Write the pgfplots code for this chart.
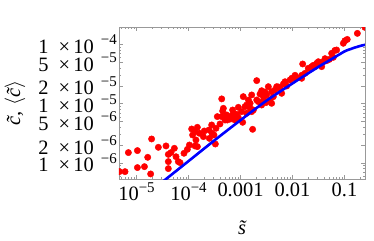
\documentclass[border=0pt]{standalone}
\usepackage{fontspec}
\setmainfont{Liberation Serif}
\usepackage{pgfplots}
\usepackage{pgfplotstable}
\pgfplotsset{compat=1.18}
\pgfplotstableread{
x y
4.68e-6 7.11e-7
6.01e-6 7.11e-7
6.97e-6 1.49e-6
8.69e-6 5.28e-7
1.04e-5 1.61e-6
1.04e-5 8.32e-7
1.42e-5 8.63e-7
1.64e-5 1.24e-6
1.87e-5 6.50e-7
1.95e-5 2.53e-6
2.63e-5 1.83e-6
3.69e-5 1.93e-6
4.09e-5 1.39e-6
4.09e-5 1.05e-6
4.09e-5 8.0e-7
4.60e-5 1.49e-6
5.34e-5 1.76e-6
5.75e-5 1.27e-6
6.37e-5 1.05e-6
6.87e-5 1.01e-6
8.18e-5 1.45e-6
9.51e-5 1.69e-6
1.04e-4 2.00e-6
1.15e-4 3.73e-6
1.20e-4 2.95e-6
1.33e-4 1.93e-6
1.39e-4 2.43e-6
1.48e-4 1.88e-6
1.48e-4 3.98e-6
1.61e-4 3.16e-6
2.01e-4 3.45e-6
1.93e-4 2.77e-6
2.48e-4 3.59e-6
2.52e-4 2.59e-6
2.83e-4 3.16e-6
3.09e-4 2.95e-6
3.28e-4 2.08e-6
3.38e-4 3.83e-6
3.58e-4 6.03e-6
4.03e-4 4.53e-6
4.35e-4 6.03e-6
4.35e-4 1.20e-5
4.54e-4 7.50e-6
5.04e-4 5.28e-6
5.42e-4 6.43e-6
5.58e-4 5.28e-6
6.47e-4 5.50e-6
7.06e-4 7.80e-6
7.28e-4 6.03e-6
7.83e-4 5.28e-6
8.43e-4 6.59e-6
9.08e-4 5.79e-6
9.08e-4 8.65e-6
1.05e-3 7.31e-6
1.10e-3 4.83e-6
1.13e-3 1.31e-5
1.22e-3 8.87e-6
1.31e-3 9.46e-6
1.42e-3 1.15e-5
1.53e-3 8.32e-6
1.64e-3 7.31e-6
1.71e-3 3.68e-6
2.05e-3 2.44e-5
2.20e-3 1.08e-5
2.37e-3 1.45e-5
2.55e-3 1.65e-5
2.55e-3 9.46e-6
2.83e-3 1.15e-5
3.09e-3 1.04e-5
3.18e-3 1.40e-5
3.43e-3 1.93e-5
3.69e-3 1.15e-5
3.97e-3 1.59e-5
4.28e-3 1.31e-5
4.60e-3 1.69e-5
4.96e-3 1.93e-5
5.75e-3 1.81e-5
6.19e-3 1.49e-5
6.67e-3 2.14e-5
7.18e-3 2.34e-5
7.73e-3 1.98e-5
8.95e-3 2.50e-5
9.64e-3 2.67e-5
1.12e-2 2.67e-5
1.50e-2 2.67e-5
1.57e-2 4.66e-5
1.74e-2 3.24e-5
2.01e-2 3.94e-5
2.33e-2 4.20e-5
2.70e-2 4.20e-5
2.92e-2 4.78e-5
3.14e-2 5.09e-5
3.64e-2 4.20e-5
3.92e-2 5.09e-5
4.54e-2 5.30e-5
5.11e-2 5.57e-5
5.66e-2 7.05e-5
6.10e-2 6.03e-5
7.06e-2 8.02e-5
9.50e-2 1.04e-4
0.102 1.15e-4
0.113 1.21e-4
0.177 1.53e-4
0.248 1.93e-4
2.96e-3 1.57e-5
5.35e-3 1.91e-5
1.12e-2 3.00e-5
1.20e-2 2.70e-5
1.50e-2 3.00e-5
2.51e-2 4.42e-5
3.38e-2 4.72e-5
4.22e-2 5.73e-5
6.56e-2 7.91e-5
1.33e-4 3.37e-6
2.79e-4 4.36e-6
4.68e-4 8.32e-6
6.28e-4 6.03e-6
7.28e-4 6.86e-6
1.31e-3 6.86e-6
1.53e-3 1.01e-5
1.64e-3 1.40e-5
1.77e-3 7.80e-6
2.05e-3 1.15e-5
2.75e-3 1.31e-5
3.97e-3 1.01e-5
}\dots
\pgfplotstableread{
x y
2.51e-5 4.07e-7
3.98e-5 5.62e-7
1.0e-4 1.07e-6
3.16e-4 2.40e-6
1.0e-3 5.25e-6
3.16e-3 1.12e-5
1.0e-2 2.19e-5
3.16e-2 4.17e-5
5.62e-2 5.62e-5
0.1 7.59e-5
0.126 8.22e-5
0.158 8.81e-5
0.2 9.38e-5
0.251 9.84e-5
}\curve
\newcommand{\tl}[2]{#1\hspace{0.5em}×\hspace{0.15em}10\hspace{0.35em}\raisebox{0.42em}{\fontsize{15}{15}\selectfont −#2}}
\begin{document}
\begin{tikzpicture}
\path[use as bounding box] (-119bp,-62bp) rectangle (255bp,179bp);
\begin{axis}[
  at={(0,0)}, anchor=south west,
  width=246bp, height=152bp, scale only axis,
  xmode=log, ymode=log,
  xmin=4.6e-6, xmax=0.248,
  ymin=5.34e-7, ymax=1.96e-4,
  font=\fontsize{20.5}{23}\selectfont,
  /pgf/number format/assume math mode=true,
  axis line style={black!40},
  every tick/.style={black!40},
  tick align=inside,
  major tick length=4bp, minor tick length=2.2bp,
  xtick={1e-5,1e-4,1e-3,1e-2,1e-1},
  xticklabels={10\raisebox{0.42em}{\fontsize{15}{15}\selectfont −5},10\raisebox{0.42em}{\fontsize{15}{15}\selectfont −4},0.001,0.01,0.1},
  minor xtick={5e-6,6e-6,7e-6,8e-6,9e-6,2e-5,3e-5,4e-5,5e-5,6e-5,7e-5,8e-5,9e-5,2e-4,3e-4,4e-4,5e-4,6e-4,7e-4,8e-4,9e-4,2e-3,3e-3,4e-3,5e-3,6e-3,7e-3,8e-3,9e-3,2e-2,3e-2,4e-2,5e-2,6e-2,7e-2,8e-2,9e-2,0.2},
  ytick={1e-6,2e-6,5e-6,1e-5,2e-5,5e-5,1e-4},
  yticklabels={\tl{1}{6},\tl{2}{6},\tl{5}{6},\tl{1}{5},\tl{2}{5},\tl{5}{5},\tl{1}{4}},
  yticklabel style={inner xsep=2bp},
  minor ytick={6e-7,7e-7,8e-7,9e-7,3e-6,4e-6,6e-6,7e-6,8e-6,9e-6,3e-5,4e-5,6e-5,7e-5,8e-5,9e-5},
  xlabel={\itshape\~{s}},
  ylabel={\itshape\~{c}, $\langle$\~{c}$\rangle$},
  xlabel style={at={(axis description cs:0.5,-0.32)}, anchor=center},
  ylabel style={at={(axis description cs:-0.423,0.5)}, anchor=center, rotate=0},
  clip marker paths=true,
]
\addplot[only marks, mark=*, mark size=3.2bp, color=red, draw=none] table[x=x,y=y] {\dots};
\addplot[blue, line width=2.6bp, smooth, no marks] table[x=x,y=y] {\curve};
\end{axis}
\end{tikzpicture}
\end{document}
